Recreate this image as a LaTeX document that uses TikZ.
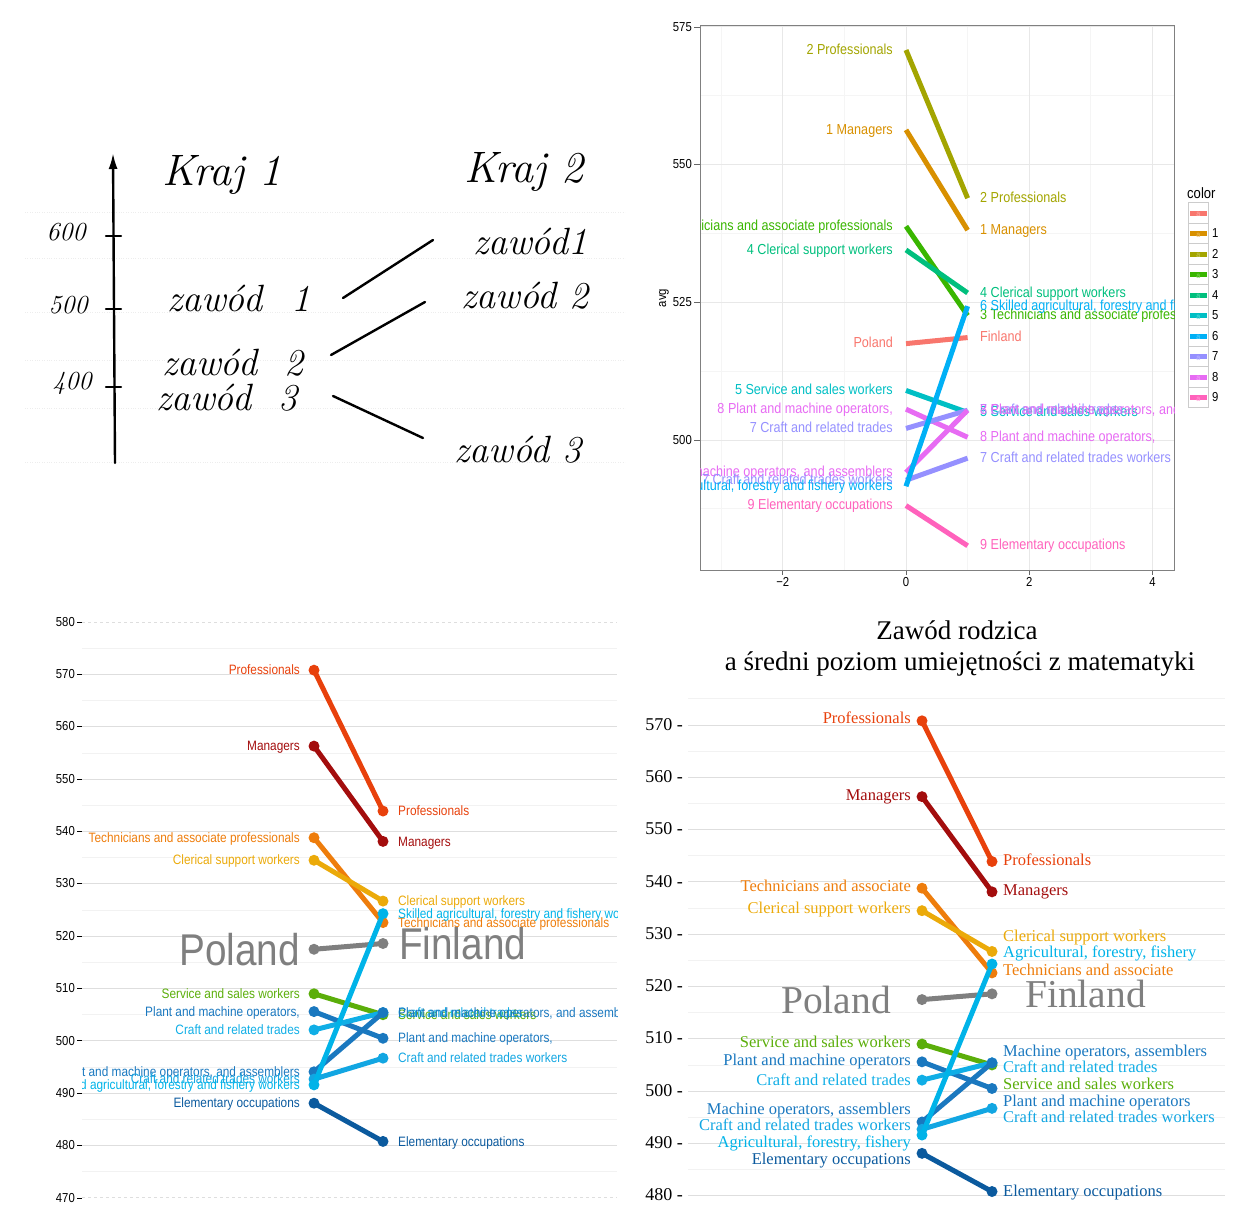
\documentclass[tikz,border=0pt]{standalone}
\usepackage{fontspec}
\usetikzlibrary{arrows.meta}
\newfontfamily\ggfont[FakeStretch=0.87]{Liberation Sans}
\newfontfamily\serfont{Liberation Serif}
\definecolor{gg0}{HTML}{F8766D}
\definecolor{gg1}{HTML}{D89000}
\definecolor{gg2}{HTML}{A3A500}
\definecolor{gg3}{HTML}{39B600}
\definecolor{gg4}{HTML}{00BF7D}
\definecolor{gg5}{HTML}{00BFC4}
\definecolor{gg6}{HTML}{00B0F6}
\definecolor{gg7}{HTML}{9590FF}
\definecolor{gg8}{HTML}{E76BF3}
\definecolor{gg9}{HTML}{FF62BC}
\definecolor{blprof}{HTML}{E8410C}
\definecolor{blman}{HTML}{A30D0D}
\definecolor{bltech}{HTML}{EE7D0C}
\definecolor{blcler}{HTML}{EBAA0A}
\definecolor{blpol}{HTML}{7F7F7F}
\definecolor{blserv}{HTML}{5BAE0A}
\definecolor{blplant}{HTML}{1A78BF}
\definecolor{blcraft}{HTML}{10AEE6}
\definecolor{blmach}{HTML}{1A78BF}
\definecolor{blcraftw}{HTML}{12A6E2}
\definecolor{blagri}{HTML}{00B3E8}
\definecolor{blelem}{HTML}{0B5A9E}
\def\occdata{prof/570.8/543.9/2/Professionals,
  man/556.3/538.1/1/Managers,
  tech/538.8/522.6/3/Technicians and associate professionals,
  cler/534.5/526.7/4/Clerical support workers,
  serv/509.0/505.0/5/Service and sales workers,
  plant/505.6/500.5/8/{Plant and machine operators,},
  craft/502.1/505.4/7/Craft and related trades,
  mach/494.1/505.4/8/{Plant and machine operators, and assemblers},
  craftw/492.7/496.7/7/Craft and related trades workers,
  agri/491.6/524.3/6/{Skilled agricultural, forestry and fishery workers},
  elem/488.1/480.8/9/Elementary occupations}
\begin{document}
\begin{tikzpicture}[x=1pt,y=-1pt,
  declare function={ytr(\v)=440-(\v-500)*5.508; ybl(\v)=622+(580-\v)*5.236; ybr(\v)=725+(570-\v)*5.23;},
  pen/.style={line width=2.4pt,line cap=round},
  hand/.style={inner sep=0pt,font=\itshape\fontsize{38}{40}\selectfont},
  handnum/.style={inner sep=0pt,font=\itshape\fontsize{26}{28}\selectfont},
  gglabel/.style={inner sep=0pt,yshift=-2pt,font=\ggfont\fontsize{14.5}{16}\selectfont},
  ggaxis/.style={inner sep=0pt,yshift=-2pt,font=\ggfont\fontsize{13}{15}\selectfont},
  ggminor/.style={draw=black!4,line width=0.8pt},
  ggmajor/.style={draw=black!9,line width=1pt},
  bllabel/.style={inner sep=0pt,yshift=-2.5pt,font=\ggfont\fontsize{13.6}{15}\selectfont},
  blbig/.style={inner sep=0pt,text=blpol,font=\ggfont\fontsize{44.5}{46}\selectfont},
  brlabel/.style={inner sep=0pt,yshift=-3pt,font=\serfont\fontsize{16.5}{18}\selectfont},
  brbig/.style={inner sep=0pt,text=blpol,font=\serfont\fontsize{39.5}{42}\selectfont},
  brtitle/.style={inner sep=0pt,font=\serfont\fontsize{27}{30}\selectfont},
  major/.style={draw=black!13,line width=1pt},
  minor/.style={draw=black!5,line width=0.8pt},
  slope/.style={line width=5pt,line cap=round},
]
\useasboundingbox (0,0) rectangle (1238,1218);

\foreach \y in {212,258,312,360,408,462}
  \draw[black!7,dotted] (25,\y) -- (625,\y);
\coordinate (axbot) at (115,463);
\coordinate (axtop) at (113,153);
\draw[pen,-{Latex[length=16pt,width=9pt]}] (axbot) -- (axtop);
\foreach \v/\y/\x in {600/236/66,500/309/68,400/387/72} {
  \draw[pen] (106,\y) -- (121,\y);
  \node[handnum] (n\v) at (\x,{\y-4}) {\v};
}
\node[hand,font=\itshape\fontsize{44}{46}\selectfont] (kraj1) at (222,175) {Kraj 1};
\node[hand,font=\itshape\fontsize{44}{46}\selectfont] (kraj2) at (524,172) {Kraj 2};
\node[hand] (z1l) at (239,298) {zawód\hspace{30pt}1};
\node[hand] (z2l) at (233,363) {zawód\hspace{28pt}2};
\node[hand] (z3l) at (227,398) {zawód\hspace{28pt}3};
\node[hand] (z1r) at (530,241) {zawód1};
\node[hand] (z2r) at (525,296) {zawód 2};
\node[hand] (z3r) at (518,450) {zawód 3};
\coordinate (a1) at (343,298); \coordinate (b1) at (433,240);
\coordinate (a2) at (331,355); \coordinate (b2) at (425,302);
\coordinate (a3) at (333,396); \coordinate (b3) at (423,438);
\draw[pen] (a1) -- (b1);
\draw[pen] (a2) -- (b2);
\draw[pen] (a3) -- (b3);

\foreach \u in {-3,-1,1,3}
  \draw[ggminor] ({906+61.6*\u},25) -- ({906+61.6*\u},570);
\foreach \v in {487.5,512.5,537.5,562.5}
  \draw[ggminor] (700,{ytr(\v)}) -- (1174,{ytr(\v)});
\foreach \u/\t in {-2/{−2},0/0,2/2,4/4} {
  \draw[ggmajor] ({906+61.6*\u},25) -- ({906+61.6*\u},570);
  \draw[black!60,line width=0.8pt] ({906+61.6*\u},570) -- ({906+61.6*\u},575);
  \node[ggaxis,yshift=2pt,anchor=north] (xt\u) at ({906+61.6*\u},577) {\t};
}
\foreach \v in {500,525,550,575} {
  \draw[ggmajor] (700,{ytr(\v)}) -- (1174,{ytr(\v)});
  \draw[black!60,line width=0.8pt] (694,{ytr(\v)}) -- (700,{ytr(\v)});
  \node[ggaxis,anchor=mid east] (yt\v) at (692,{ytr(\v)}) {\v};
}
\draw[black!50,line width=1pt] (700,25) rectangle (1174,570);
\node[ggaxis,yshift=2pt,rotate=90] (avg) at (664,298) {avg};
\coordinate (tr-pol-p) at (906,{ytr(517.5)});
\coordinate (tr-pol-f) at (967.6,{ytr(518.6)});
\draw[gg0,line width=5pt] (tr-pol-p) -- (tr-pol-f);
\foreach \n/\a/\b/\k/\t in \occdata {
  \coordinate (tr-\n-p) at (906,{ytr(\a)});
  \coordinate (tr-\n-f) at (967.6,{ytr(\b)});
  \draw[gg\k,line width=5pt] (tr-\n-p) -- (tr-\n-f);
}
\begin{scope}
  \clip (700,25) rectangle (1174,570);
  \node[gglabel,anchor=mid east,text=gg0] (trl-pol) at (893,{ytr(517.5)}) {Poland};
  \node[gglabel,anchor=mid west,text=gg0] (trr-pol) at (980,{ytr(518.6)}) {Finland};
  \foreach \n/\a/\b/\k/\t in \occdata {
    \node[gglabel,anchor=mid east,text=gg\k] (trl-\n) at (893,{ytr(\a)}) {\k\ \t};
    \node[gglabel,anchor=mid west,text=gg\k] (trr-\n) at (980,{ytr(\b)}) {\k\ \t};
  }
\end{scope}
\node[ggaxis,anchor=mid west,font=\ggfont\fontsize{15}{16}\selectfont] (legtitle) at (1187,194) {color};
\foreach \k in {0,...,9} {
  \node[draw=black!20,line width=0.8pt,minimum width=20pt,minimum height=20.5pt,inner sep=0pt] (key\k) at (1198.3,{213+20.5*\k}) {};
  \fill[gg\k] (1189.8,{210.5+20.5*\k}) rectangle (1206.8,{215.5+20.5*\k});
  \node[inner sep=0pt,text=gg\k!60,font=\ggfont\fontsize{8}{8}\selectfont] (keya\k) at (1198.3,{214.5+20.5*\k}) {a};
  \ifnum\k>0 \node[ggaxis,anchor=mid west] (keyl\k) at (1212,{213+20.5*\k}) {\k}; \fi
}

\foreach \v in {475,485,...,575}
  \draw[minor] (82,{ybl(\v)}) -- (617,{ybl(\v)});
\foreach \v in {470,480,...,580} {
  \draw[black,line width=0.8pt] (77,{ybl(\v)}) -- (82,{ybl(\v)});
  \node[ggaxis,anchor=mid east] (blt\v) at (75,{ybl(\v)}) {\v};
}
\foreach \v in {480,490,...,570}
  \draw[major] (82,{ybl(\v)}) -- (617,{ybl(\v)});
\foreach \v in {470,580}
  \draw[major,dashed] (82,{ybl(\v)}) -- (617,{ybl(\v)});
\coordinate (bl-pol-p) at (314,{ybl(517.5)});
\coordinate (bl-pol-f) at (383,{ybl(518.6)});
\draw[slope,blpol] (bl-pol-p) -- (bl-pol-f);
\fill[blpol] (bl-pol-p) circle (5.5pt) (bl-pol-f) circle (5.5pt);
\foreach \n/\a/\b/\k/\t in \occdata {
  \coordinate (bl-\n-p) at (314,{ybl(\a)});
  \coordinate (bl-\n-f) at (383,{ybl(\b)});
  \draw[slope,bl\n] (bl-\n-p) -- (bl-\n-f);
  \fill[bl\n] (bl-\n-p) circle (5.5pt) (bl-\n-f) circle (5.5pt);
}
\begin{scope}
  \clip (82,600) rectangle (617,1210);
  \node[blbig,anchor=east] (bll-pol) at (300,{ybl(517.5)}) {Poland};
  \node[blbig,anchor=west] (blr-pol) at (399,{ybl(518.6)}) {Finland};
  \foreach \n/\a/\b/\k/\t in \occdata {
    \node[bllabel,anchor=mid east,text=bl\n] (bll-\n) at (300,{ybl(\a)}) {\t};
    \node[bllabel,anchor=mid west,text=bl\n] (blr-\n) at (398,{ybl(\b)}) {\t};
  }
\end{scope}

\node[brtitle] (title1) at (957,630) {Zawód rodzica};
\node[brtitle] (title2) at (960,664) {a średni poziom umiejętności z matematyki};
\foreach \v in {485,495,...,575}
  \draw[minor] (688,{ybr(\v)}) -- (1225,{ybr(\v)});
\foreach \v in {480,490,...,570} {
  \draw[major] (688,{ybr(\v)}) -- (1225,{ybr(\v)});
  \node[brlabel,anchor=mid east,text=black,font=\serfont\fontsize{18}{20}\selectfont] (brt\v) at (683,{ybr(\v)}) {\v\ -};
}
\coordinate (br-pol-p) at (922,{ybr(517.5)});
\coordinate (br-pol-f) at (992,{ybr(518.6)});
\draw[slope,blpol] (br-pol-p) -- (br-pol-f);
\fill[blpol] (br-pol-p) circle (5.5pt) (br-pol-f) circle (5.5pt);
\foreach \n/\a/\b/\k/\t in \occdata {
  \coordinate (br-\n-p) at (922,{ybr(\a)});
  \coordinate (br-\n-f) at (992,{ybr(\b)});
  \draw[slope,bl\n] (br-\n-p) -- (br-\n-f);
  \fill[bl\n] (br-\n-p) circle (5.5pt) (br-\n-f) circle (5.5pt);
}
\node[brbig,anchor=east] (brl-pol) at (891,{ybr(517.5)}) {Poland};
\node[brbig,anchor=west] (brr-pol) at (1025,{ybr(518.6)}) {Finland};
\foreach \n/\y/\t in {prof/718.3/Professionals, man/795/Managers,
  tech/886.7/Technicians and associate, cler/908.3/Clerical support workers,
  serv/1042.7/Service and sales workers, plant/1060.7/Plant and machine operators,
  craft/1080/Craft and related trades, mach/1109/{Machine operators, assemblers},
  craftw/1125.7/Craft and related trades workers, agri/1142.7/{Agricultural, forestry, fishery},
  elem/1159.3/Elementary occupations}
  \node[brlabel,anchor=mid east,text=bl\n] (brl-\n) at (911,\y) {\t};
\foreach \n/\y/\t in {prof/860.7/Professionals, man/890.7/Managers,
  cler/936.7/Clerical support workers, agri/952.7/{Agricultural, forestry, fishery},
  tech/970/Technicians and associate, mach/1051/{Machine operators, assemblers},
  craft/1067.7/Craft and related trades, serv/1084/Service and sales workers,
  plant/1101/Plant and machine operators, craftw/1117.7/Craft and related trades workers,
  elem/1191/Elementary occupations}
  \node[brlabel,anchor=mid west,text=bl\n] (brr-\n) at (1003,\y) {\t};
\end{tikzpicture}
\end{document}
